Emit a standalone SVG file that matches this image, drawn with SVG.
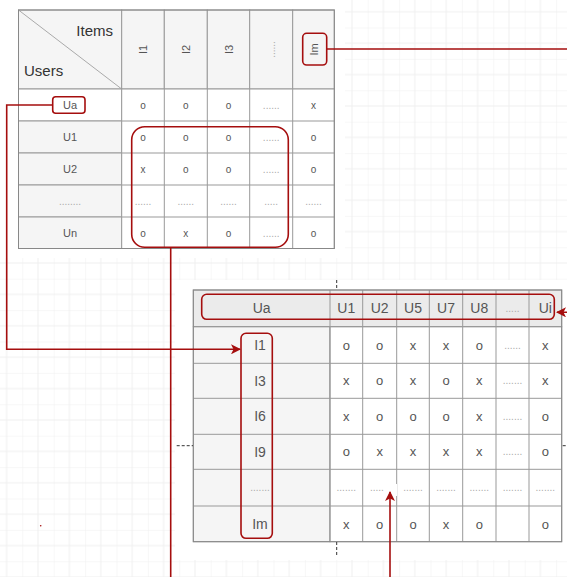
<svg xmlns="http://www.w3.org/2000/svg" width="567" height="577" viewBox="0 0 567 577">
<defs>
<pattern id="grid" patternUnits="userSpaceOnUse" x="22.3" y="27.5" width="31.4" height="31.4">
<path d="M0 0V31.4M15.7 0V31.4M0 0H31.4M0 15.7H31.4" fill="none" stroke="#efefef" stroke-width="1"/>
</pattern>
<marker id="arr" viewBox="0 0 10 10" refX="9" refY="5" markerWidth="10" markerHeight="10" markerUnits="userSpaceOnUse" orient="auto">
<path d="M0 0L10 5L0 10L2.5 5Z" fill="#a50e0e"/>
</marker>
<style>
.cell{stroke:#999;stroke-width:1}
.hd{fill:#f5f5f5}
.hd2{fill:#ebebeb}
.wh{fill:#fff}
.t{font-family:"Liberation Sans",Arial,sans-serif;fill:#555;text-anchor:middle;dominant-baseline:central}
.s{font-size:10px}
.s2{font-size:11px}
.m{font-size:13px}
.l{font-size:14px}
.big{font-size:15px;fill:#333}
.dot{fill:#aaa}
.red{fill:none;stroke:#a50e0e;stroke-width:1.6}
.guide{stroke:#333;stroke-width:1;stroke-dasharray:3 2;fill:none}
</style>
</defs>
<rect width="567" height="577" fill="#fff"/>
<rect width="567" height="577" fill="url(#grid)"/>
<rect x="0" y="0" width="345" height="258" fill="#fff"/>
<rect x="175" y="280" width="392" height="280" fill="#fff"/>

<g id="table-top">
<rect class="cell hd" x="18.5" y="10" width="103.2" height="79"/>
<line x1="18.5" y1="10" x2="121.7" y2="89" stroke="#aaa" stroke-width="1"/>
<rect class="cell hd" x="121.7" y="10" width="42.6" height="79"/>
<rect class="cell hd" x="164.3" y="10" width="43" height="79"/>
<rect class="cell hd" x="207.3" y="10" width="42.4" height="79"/>
<rect class="cell hd" x="249.7" y="10" width="43" height="79"/>
<rect class="cell hd" x="292.7" y="10" width="41.6" height="79"/>
<text class="t big" x="113" y="30" style="text-anchor:end">Items</text>
<text class="t big" x="24" y="70" style="text-anchor:start">Users</text>
<text class="t s2" transform="translate(143,49.5) rotate(-90)">I1</text>
<text class="t s2" transform="translate(185.8,49.5) rotate(-90)">I2</text>
<text class="t s2" transform="translate(228.5,49.5) rotate(-90)">I3</text>
<text class="t s dot" transform="translate(271.2,49.5) rotate(-90)">......</text>
<text class="t s2" transform="translate(313.5,49.5) rotate(-90)">Im</text>
<rect class="cell wh" x="18.5" y="89" width="103.2" height="32"/>
<rect class="cell hd" x="18.5" y="121" width="103.2" height="32"/>
<rect class="cell hd" x="18.5" y="153" width="103.2" height="32"/>
<rect class="cell hd" x="18.5" y="185" width="103.2" height="32"/>
<rect class="cell hd" x="18.5" y="217" width="103.2" height="31.5"/>
<rect class="cell wh" x="121.7" y="89" width="212.6" height="159.5"/>
<path d="M164.3 89V248.5M207.3 89V248.5M249.7 89V248.5M292.7 89V248.5M121.7 121H334.3M121.7 153H334.3M121.7 185H334.3M121.7 217H334.3" stroke="#999" fill="none"/>
<rect x="18.5" y="10" width="315.8" height="238.5" fill="none" stroke="#888"/>
<text class="t s2" x="70" y="105">Ua</text>
<text class="t s" x="143" y="105">o</text><text class="t s" x="185.8" y="105">o</text><text class="t s" x="228.5" y="105">o</text><text class="t s dot" x="271.2" y="105">......</text><text class="t s" x="313.5" y="105">x</text>
<text class="t s2" x="70" y="137">U1</text>
<text class="t s" x="143" y="137">o</text><text class="t s" x="185.8" y="137">o</text><text class="t s" x="228.5" y="137">o</text><text class="t s dot" x="271.2" y="137">......</text><text class="t s" x="313.5" y="137">o</text>
<text class="t s2" x="70" y="169">U2</text>
<text class="t s" x="143" y="169">x</text><text class="t s" x="185.8" y="169">o</text><text class="t s" x="228.5" y="169">o</text><text class="t s dot" x="271.2" y="169">......</text><text class="t s" x="313.5" y="169">o</text>
<text class="t s dot" x="70" y="201">........</text>
<text class="t s dot" x="143" y="201">......</text><text class="t s dot" x="185.8" y="201">......</text><text class="t s dot" x="228.5" y="201">......</text><text class="t s dot" x="271.2" y="201">.....</text><text class="t s dot" x="313.5" y="201">......</text>
<text class="t s2" x="70" y="233">Un</text>
<text class="t s" x="143" y="233">o</text><text class="t s" x="185.8" y="233">x</text><text class="t s" x="228.5" y="233">o</text><text class="t s dot" x="271.2" y="233">......</text><text class="t s" x="313.5" y="233">o</text>
</g>

<g id="table-bottom">
<rect class="cell hd2" x="193.3" y="290" width="368.4" height="36.7"/>
<rect class="cell hd" x="193.3" y="326.7" width="136.7" height="215"/>
<rect class="cell wh" x="330" y="326.7" width="231.7" height="215"/>
<path d="M330 290V541.7M362.7 290V541.7M396.7 290V541.7M429.3 290V541.7M462.7 290V541.7M496 290V541.7M529 290V541.7M193.3 326.7H561.7M193.3 363.3H561.7M193.3 398.3H561.7M193.3 434.3H561.7M193.3 469.3H561.7M193.3 506H561.7" stroke="#999" fill="none"/>
<rect x="193.3" y="290" width="368.4" height="251.7" fill="none" stroke="#888"/>
<text class="t l" x="261.7" y="308.3">Ua</text>
<text class="t l" x="346.3" y="308.3">U1</text><text class="t l" x="379.7" y="308.3">U2</text><text class="t l" x="413" y="308.3">U5</text><text class="t l" x="446" y="308.3">U7</text><text class="t l" x="479.3" y="308.3">U8</text><text class="t s dot" x="512.5" y="308.3">.....</text><text class="t l" x="545.3" y="308.3">Ui</text>

<text class="t l" x="260" y="345">I1</text>
<text class="t m" x="346.3" y="345">o</text><text class="t m" x="379.7" y="345">o</text><text class="t m" x="413" y="345">x</text><text class="t m" x="446" y="345">x</text><text class="t m" x="479.3" y="345">o</text><text class="t s dot" x="512.5" y="345">......</text><text class="t m" x="545.3" y="345">x</text>
<text class="t l" x="260" y="380.8">I3</text>
<text class="t m" x="346.3" y="380.8">x</text><text class="t m" x="379.7" y="380.8">o</text><text class="t m" x="413" y="380.8">x</text><text class="t m" x="446" y="380.8">o</text><text class="t m" x="479.3" y="380.8">x</text><text class="t s dot" x="512.5" y="380.8">.......</text><text class="t m" x="545.3" y="380.8">x</text>
<text class="t l" x="260" y="416.3">I6</text>
<text class="t m" x="346.3" y="416.3">x</text><text class="t m" x="379.7" y="416.3">o</text><text class="t m" x="413" y="416.3">o</text><text class="t m" x="446" y="416.3">o</text><text class="t m" x="479.3" y="416.3">x</text><text class="t s dot" x="512.5" y="416.3">.......</text><text class="t m" x="545.3" y="416.3">o</text>
<text class="t l" x="260" y="451.8">I9</text>
<text class="t m" x="346.3" y="451.8">o</text><text class="t m" x="379.7" y="451.8">x</text><text class="t m" x="413" y="451.8">x</text><text class="t m" x="446" y="451.8">x</text><text class="t m" x="479.3" y="451.8">x</text><text class="t s dot" x="512.5" y="451.8">.......</text><text class="t m" x="545.3" y="451.8">o</text>
<text class="t s dot" x="260" y="487.7">.......</text>
<text class="t s dot" x="346.3" y="487.7">.......</text><text class="t s dot" x="379.7" y="487.7">.......</text><text class="t s dot" x="413" y="487.7">.......</text><text class="t s dot" x="446" y="487.7">.......</text><text class="t s dot" x="479.3" y="487.7">.......</text><text class="t s dot" x="512.5" y="487.7">.......</text><text class="t s dot" x="545.3" y="487.7">.......</text>
<text class="t l" x="260" y="524">Im</text>
<text class="t m" x="346.3" y="524">x</text><text class="t m" x="379.7" y="524">o</text><text class="t m" x="413" y="524">o</text><text class="t m" x="446" y="524">x</text><text class="t m" x="479.3" y="524">o</text><text class="t m" x="545.3" y="524">o</text>
</g>

<g id="guides">
<path class="guide" d="M336.7 280V290M336.7 542V555M176.7 445.7H193M562.7 445.7H567"/>
<circle cx="40.7" cy="525.7" r="0.8" fill="#a50e0e"/>
</g>

<g id="highlights">
<rect id="hl-ua" class="red" x="52.7" y="96.7" width="32.3" height="16.6" rx="3"/>
<rect id="hl-im" class="red" x="302.7" y="33.3" width="24" height="31.7" rx="4"/>
<rect id="hl-block" class="red" x="131.7" y="126.7" width="156.6" height="120.6" rx="13"/>
<rect id="hl-header" class="red" x="201.7" y="294.3" width="352.6" height="25" rx="5"/>
<rect id="hl-items" class="red" x="241" y="333.3" width="31.3" height="205" rx="5"/>
</g>

<g id="connectors">
<path class="red" d="M326.7 49H580V312.3H557" marker-end="url(#arr)"/>
<path class="red" d="M52.7 105H6.7V349.3H240" marker-end="url(#arr)"/>
<path class="red" d="M170.7 247.3V590"/>
<rect x="384" y="484" width="13" height="12" fill="#fff"/>
<path class="red" d="M390 590V492" marker-end="url(#arr)"/>
</g>
</svg>
